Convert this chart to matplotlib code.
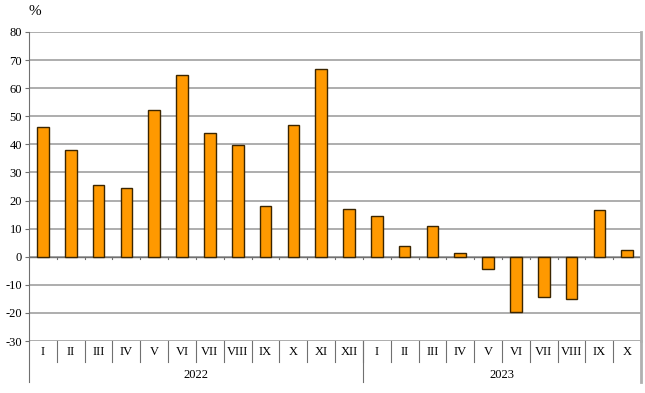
import matplotlib
matplotlib.use("Agg")
import matplotlib.pyplot as plt
import matplotlib.transforms as mtransforms

# ── Data ──────────────────────────────────────────────────────────────────────
months = ["I", "II", "III", "IV", "V", "VI", "VII", "VIII", "IX", "X", "XI", "XII",
          "I", "II", "III", "IV", "V", "VI", "VII", "VIII", "IX", "X"]
values = [46.2, 38.0, 25.7, 24.3, 52.2, 64.8, 43.9, 39.7, 18.0, 47.0, 66.9, 17.0,
          14.6, 3.9, 10.9, 1.3, -4.5, -19.5, -14.3, -15.0, 16.7, 2.5]
years = ["2022", "2023"]
year_counts = [12, 10]

plt.rcParams.update({"font.family": "Liberation Serif", "font.size": 9,
                     "axes.unicode_minus": False})

fig = plt.figure(figsize=(6.45, 3.93), dpi=100)
ax = fig.add_axes([0.045, 0.1323, 0.949, 0.7863])

n = len(values)
x = [i + 0.5 for i in range(n)]
ax.bar(x, values, width=0.42, color="#ff9900", edgecolor="#3b2500", linewidth=1.0, zorder=3)

ax.set_xlim(0, n)
ax.set_ylim(-30, 80)
ax.set_yticks(range(-30, 81, 10))
ax.yaxis.grid(True, color="#a0a0a0", linewidth=1.2, zorder=0)
ax.axhline(0, color="#707070", linewidth=1.0, zorder=2)
ax.set_xticks([])
ax.tick_params(axis="y", length=3, width=0.8, color="#707070", pad=2, labelsize=9)

for s in ["top", "bottom"]:
    ax.spines[s].set_visible(False)
ax.spines["left"].set_color("#707070")
ax.spines["right"].set_color("#b0b0b0")
ax.spines["right"].set_linewidth(2)

# small ticks on the zero line
for i in range(1, n):
    ax.plot([i, i], [0, -0.9], color="#707070", lw=0.8, zorder=2)

trans = mtransforms.blended_transform_factory(ax.transData, ax.transAxes)

# category labels and separators
for i, m in enumerate(months):
    ax.text(i + 0.5, -0.036, m, transform=trans, ha="center", va="center", fontsize=9)
for i in range(1, n):
    ax.plot([i, i], [0, -0.068], transform=trans, color="#707070", lw=0.8, clip_on=False)

# year labels and long separators
start = 0
for y, c in zip(years, year_counts):
    ax.text(start + c / 2, -0.11, y, transform=trans, ha="center", va="center", fontsize=9)
    start += c
for b in [0, 12, n]:
    col = "#b0b0b0" if b == n else "#707070"
    lw = 2 if b == n else 0.8
    ax.plot([b, b], [0, -0.133], transform=trans, color=col, lw=lw, clip_on=False)

fig.text(0.054, 0.97, "%", ha="center", va="center", fontsize=11)

fig.savefig("out.png", dpi=100)
